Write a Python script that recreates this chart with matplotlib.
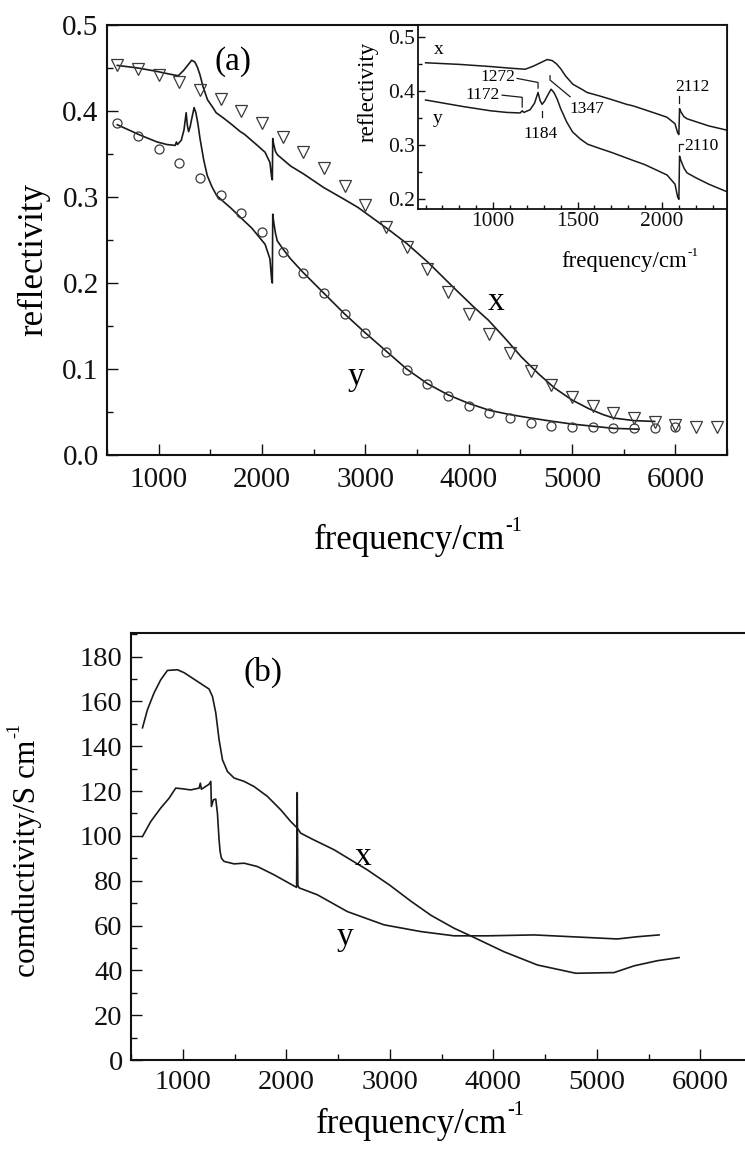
import matplotlib
matplotlib.use('Agg')
import matplotlib.pyplot as plt
from matplotlib.ticker import MultipleLocator, FormatStrFormatter

plt.rcParams['font.family'] = ['Liberation Serif', 'DejaVu Serif']

# ---------------- data ----------------
# (a) measured reflectivity points
pts_freq_x = [600, 800, 1000, 1200, 1400, 1600, 1800, 2000, 2200, 2400, 2600, 2800, 3000,
              3200, 3400, 3600, 3800, 4000, 4200, 4400, 4600, 4800, 5000, 5200, 5400, 5600,
              5800, 6000, 6200, 6400]
pts_refl_x = [0.454, 0.449, 0.442, 0.434, 0.424, 0.414, 0.400, 0.386, 0.370, 0.352, 0.334,
              0.313, 0.291, 0.265, 0.242, 0.216, 0.189, 0.164, 0.141, 0.119, 0.098, 0.081,
              0.067, 0.057, 0.049, 0.043, 0.038, 0.035, 0.033, 0.033]
pts_freq_y = [600, 800, 1000, 1200, 1400, 1600, 1800, 2000, 2200, 2400, 2600, 2800, 3000,
              3200, 3400, 3600, 3800, 4000, 4200, 4400, 4600, 4800, 5000, 5200, 5400, 5600,
              5800, 6000]
pts_refl_y = [0.386, 0.371, 0.356, 0.339, 0.322, 0.302, 0.281, 0.259, 0.236, 0.212, 0.188,
              0.164, 0.142, 0.120, 0.099, 0.082, 0.069, 0.057, 0.049, 0.043, 0.037, 0.034,
              0.033, 0.032, 0.031, 0.031, 0.031, 0.032]

# (a) continuous reflectivity spectra
curve_freq_x = [600, 800, 985, 1100, 1190, 1240, 1280, 1320, 1350, 1375, 1400, 1430, 1473,
                1530, 1556, 1625, 1700, 1790, 1830, 1955, 2030, 2077, 2093, 2100, 2104, 2112,
                2130, 2150, 2277, 2400, 2597, 2800, 2927, 3100, 3248, 3400, 3607, 3860, 4050,
                4189, 4350, 4510, 4680, 4830, 5000, 5160, 5300, 5403, 5600, 5800]
curve_refl_x = [0.453, 0.450, 0.446, 0.443, 0.441, 0.447, 0.453, 0.459, 0.457, 0.451, 0.442,
                0.428, 0.413, 0.403, 0.398, 0.392, 0.385, 0.376, 0.373, 0.360, 0.352, 0.340,
                0.323, 0.320, 0.368, 0.362, 0.353, 0.349, 0.336, 0.327, 0.311, 0.297, 0.288,
                0.273, 0.260, 0.246, 0.224, 0.194, 0.172, 0.157, 0.136, 0.114, 0.094, 0.078,
                0.064, 0.054, 0.047, 0.043, 0.040, 0.039]
curve_freq_y = [600, 820, 985, 1080, 1160, 1172, 1182, 1219, 1245, 1266, 1278, 1290, 1305,
                1320, 1343, 1360, 1380, 1400, 1436, 1470, 1515, 1560, 1633, 1700, 1829, 1900,
                2030, 2077, 2093, 2100, 2104, 2112, 2130, 2148, 2200, 2277, 2400, 2600, 2800,
                3000, 3200, 3400, 3600, 3800, 4000, 4200, 4400, 4600, 4820, 5000, 5160, 5400,
                5650]
curve_refl_y = [0.384, 0.372, 0.364, 0.361, 0.360, 0.364, 0.361, 0.366, 0.378, 0.398, 0.383,
                0.376, 0.382, 0.391, 0.404, 0.398, 0.385, 0.368, 0.343, 0.325, 0.312, 0.302,
                0.294, 0.287, 0.272, 0.264, 0.245, 0.228, 0.204, 0.200, 0.280, 0.272, 0.258,
                0.249, 0.240, 0.228, 0.212, 0.188, 0.164, 0.142, 0.121, 0.100, 0.083, 0.070,
                0.060, 0.052, 0.047, 0.043, 0.039, 0.036, 0.034, 0.031, 0.030]

# (b) optical conductivity
cond_freq_x = [611, 659, 723, 787, 852, 949, 1013, 1142, 1254, 1287, 1319, 1351, 1384, 1432,
               1496, 1593, 1689, 1818, 1947, 2043, 2108, 2140, 2253, 2462, 2784, 3000, 3200,
               3400, 3621, 3799, 4104, 4426, 4797, 5167, 5360, 5586, 5795]
cond_val_x = [148.2, 156.3, 163.8, 169.6, 173.8, 174.1, 172.8, 168.9, 165.5, 162.2, 154.9,
              142.9, 133.9, 128.7, 125.8, 124.3, 122.0, 117.6, 111.6, 106.4, 103.4, 101.2,
              98.5, 93.8, 84.8, 78.0, 71.0, 64.5, 58.8, 55.0, 48.3, 42.4, 38.7, 39.0, 42.0,
              44.3, 45.7]
cond_freq_y = [611, 691, 787, 868, 932, 997, 1077, 1158, 1170, 1180, 1254, 1271, 1277, 1296,
               1319, 1335, 1351, 1361, 1374, 1399, 1496, 1593, 1722, 1883, 2085, 2100, 2106,
               2112, 2124, 2301, 2591, 2945, 3300, 3621, 3943, 4394, 4845, 5199, 5393, 5602]
cond_val_y = [99.7, 106.4, 112.4, 116.8, 121.3, 121.0, 120.5, 121.3, 123.5, 120.8, 123.0,
              124.3, 113.1, 116.1, 116.4, 110.1, 98.2, 93.0, 90.0, 88.6, 87.5, 87.8, 86.3,
              82.6, 77.4, 77.0, 119.3, 78.0, 76.8, 73.7, 66.2, 60.3, 57.3, 55.4, 55.4, 55.8,
              54.8, 54.0, 55.0, 55.8]

# inset annotations: (label, text x, text y)
inset_labels = [("1272", 1030, 0.426), ("1172", 935, 0.393), ("1184", 1278, 0.321),
                ("1347", 1556, 0.367), ("2112", 2183, 0.409), ("2110", 2231, 0.299)]

# ---------------- figure ----------------
W, H = 745, 1164
fig = plt.figure(figsize=(W / 100, H / 100), dpi=100)
renderer = fig.canvas.get_renderer()


def rect(l, t, r, b):
    return [l / W, 1 - b / H, (r - l) / W, (b - t) / H]


def ftext(px, py, s, **kw):
    fig.text(px / W, 1 - py / H, s, ha='center', va='center', **kw)


def text_size(s, fs):
    t = fig.text(0, 0, s, fontsize=fs)
    bb = t.get_window_extent(renderer)
    t.remove()
    return bb.width, bb.height


def sup_label(px, py, base, sup, fs, rot=0):
    w, h = text_size(base, fs)
    sfs = fs * 0.58
    sw, sh = text_size(sup, sfs)
    total = w + 1 + sw
    if rot == 0:
        x0 = px - total / 2
        fig.text(x0 / W, 1 - py / H, base, ha='left', va='center', fontsize=fs)
        fig.text((x0 + w + 1) / W, 1 - (py - 0.42 * h) / H, sup, ha='left', va='center',
                 fontsize=sfs)
    else:
        y0 = py + total / 2
        fig.text(px / W, 1 - y0 / H, base, ha='center', va='bottom', fontsize=fs, rotation=90)
        fig.text((px - 0.42 * h) / W, 1 - (y0 - w - 1) / H, sup, ha='center', va='bottom',
                 fontsize=sfs, rotation=90)


LC = '#1a1a1a'
MC = '#3a3a3a'


def style(ax, lsize, major, minor, pad, sw=1.5):
    for sp in ax.spines.values():
        sp.set_linewidth(sw)
        sp.set_color('#111111')
    ax.tick_params(which='both', direction='in', top=False, right=False,
                   width=1.0, colors='#111111', labelsize=lsize, pad=pad)
    ax.tick_params(which='major', length=major)
    ax.tick_params(which='minor', length=minor)


# ----- panel (a)
axA = fig.add_axes(rect(107, 25, 727, 455))
axA.plot(curve_freq_x, curve_refl_x, color=LC, lw=1.2)
axA.plot(curve_freq_y, curve_refl_y, color=LC, lw=1.2)
axA.plot(pts_freq_x, pts_refl_x, ls='none', marker='v', ms=8, mfc='none', mec=MC, mew=0.9)
axA.plot(pts_freq_y, pts_refl_y, ls='none', marker='o', ms=6.5, mfc='none', mec=MC, mew=0.9)
axA.set_xlim(500, 6500)
axA.set_ylim(0, 0.5)
axA.xaxis.set_major_locator(MultipleLocator(1000))
axA.xaxis.set_minor_locator(MultipleLocator(500))
axA.yaxis.set_major_locator(MultipleLocator(0.1))
axA.yaxis.set_minor_locator(MultipleLocator(0.05))
axA.yaxis.set_major_formatter(FormatStrFormatter('%.1f'))
style(axA, 21, 8, 4.5, 6)
axA.tick_params(axis='x', pad=9)
axA.text(1723, 0.457, '(a)', fontsize=24, ha='center', va='center')
axA.text(4267, 0.178, 'x', fontsize=24, ha='center', va='center')
axA.text(2908, 0.091, 'y', fontsize=24, ha='center', va='center')
ftext(34, 260, 'reflectivity', fontsize=25, rotation=90)
sup_label(418, 540, 'frequency/cm', '-1', 25)

# ----- inset
axI = fig.add_axes(rect(418, 25, 727, 209))
axI.set_facecolor('white')
axI.plot(curve_freq_x, curve_refl_x, color=LC, lw=1.1)
axI.plot(curve_freq_y, curve_refl_y, color=LC, lw=1.1)
axI.set_xlim(555, 2385)
axI.set_ylim(0.182, 0.523)
axI.xaxis.set_minor_locator(MultipleLocator(100))
axI.set_xticks([1000, 1500, 2000])
axI.yaxis.set_major_locator(MultipleLocator(0.1))
axI.yaxis.set_minor_locator(MultipleLocator(0.05))
axI.yaxis.set_major_formatter(FormatStrFormatter('%.1f'))
style(axI, 15.5, 5, 3, 2.5, sw=1.3)
ftext(368, 92, 'reflectivity', fontsize=16.5, rotation=90)
sup_label(630, 262, 'frequency/cm', '-1', 16.5)
axI.text(680, 0.477, 'x', fontsize=14, ha='center', va='center')
axI.text(669, 0.349, 'y', fontsize=14, ha='center', va='center')
for lab, tx, ty in inset_labels:
    axI.text(tx, ty, lab, fontsize=12.5, ha='center', va='center')
lk = dict(color=LC, lw=0.9)
axI.plot([1142, 1266, 1266], [0.424, 0.4165, 0.406], **lk)
axI.plot([1053, 1172, 1172], [0.393, 0.389, 0.371], **lk)
axI.plot([1290, 1290], [0.363, 0.352], **lk)
axI.plot([1337, 1337, 1456], [0.429, 0.421, 0.390], **lk)
axI.plot([2100, 2100], [0.392, 0.379], **lk)
axI.plot([2124, 2100, 2100], [0.303, 0.303, 0.290], **lk)

# ----- panel (b)
axB = fig.add_axes(rect(131, 633, 752, 1060))
axB.plot(cond_freq_x, cond_val_x, color=LC, lw=1.2)
axB.plot(cond_freq_y, cond_val_y, color=LC, lw=1.2)
axB.set_xlim(500, 6500)
axB.set_ylim(0, 190.5)
axB.xaxis.set_major_locator(MultipleLocator(1000))
axB.xaxis.set_minor_locator(MultipleLocator(500))
axB.yaxis.set_major_locator(MultipleLocator(20))
axB.yaxis.set_minor_locator(MultipleLocator(10))
style(axB, 20.5, 8, 4.5, 6)
axB.tick_params(axis='x', pad=7)
axB.spines['right'].set_visible(False)
axB.text(1775, 172.8, '(b)', fontsize=24, ha='center', va='center')
axB.text(2741, 90.6, 'x', fontsize=24, ha='center', va='center')
axB.text(2568, 54.9, 'y', fontsize=24, ha='center', va='center')
sup_label(27, 850, 'comductivity/S cm', '-1', 22.5, rot=90)
sup_label(420, 1124, 'frequency/cm', '-1', 25)

fig.savefig('out.png', dpi=100, facecolor='white')
